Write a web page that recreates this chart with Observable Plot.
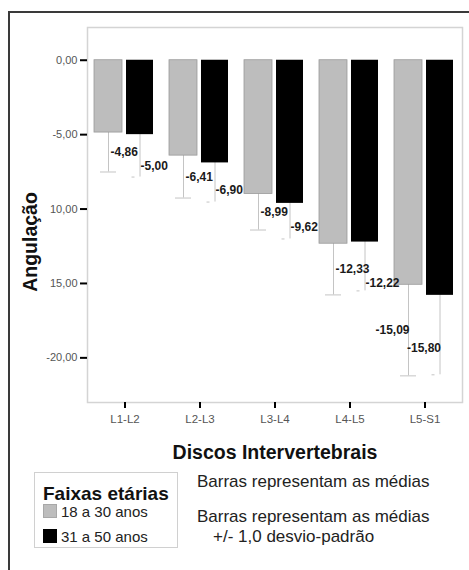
<!DOCTYPE html>
<html>
<head>
<meta charset="utf-8">
<script src="https://cdn.jsdelivr.net/npm/d3@7"></script>
<script src="https://cdn.jsdelivr.net/npm/@observablehq/plot@0.6"></script>
<style>
  html, body { margin: 0; padding: 0; background: #fff; }
  #wrap { position: relative; width: 469px; height: 570px; overflow: hidden; font-family: "Liberation Sans", Arial, sans-serif; background: #fff; }
  #border { position: absolute; left: 8px; top: 11px; right: -10px; bottom: -10px; border-left: 2px solid #3a3a3a; border-top: 2px solid #3a3a3a; pointer-events: none; }
  #chart { position: absolute; left: 0; top: 0; }
  .legend { position: absolute; left: 34px; top: 472px; width: 144px; height: 76px; border: 1px solid #d0d0d0; box-sizing: border-box; background: #fff; }
  .legend .title { position: absolute; left: 8px; top: 10px; font-size: 19px; font-weight: bold; color: #111; white-space: nowrap; }
  .legend .item { position: absolute; left: 8px; height: 15px; font-size: 15px; line-height: 15px; color: #222; white-space: nowrap; }
  .legend .sw { display: inline-block; width: 14px; height: 14px; vertical-align: top; margin-right: 4px; box-sizing: border-box; }
  .note { position: absolute; font-size: 17px; color: #222; white-space: nowrap; line-height: 17px; }
</style>
</head>
<body>
<div id="wrap">
  <div id="chart"></div>
  <div id="border"></div>
</div>
<script>
// ---- data ----
const discs = ["L1-L2", "L2-L3", "L3-L4", "L4-L5", "L5-S1"];
const groups = ["18 a 30 anos", "31 a 50 anos"];
const groupColors = ["#bdbdbd", "#000000"];
const means18 = [-4.86, -6.41, -8.99, -12.33, -15.09];
const means31 = [-5.00, -6.90, -9.62, -12.22, -15.80];
const sd18 = [2.65, 2.85, 2.42, 3.44, 6.12];
const sd31 = [2.85, 2.63, 2.39, 3.28, 5.34];
const yTicks = [0, -5, -10, -15, -20];
const yTickLabels = ["0,00", "-5,00", "10,00", "15,00", "-20,00"];
const xTitle = "Discos Intervertebrais";
const yTitle = "Angulação";
const legendTitle = "Faixas etárias";
const notes = ["Barras representam as médias", "Barras representam as médias", "+/- 1,0 desvio-padrão"];

const fmt = v => v.toFixed(2).replace(".", ",");
// label placement (data units): inside the lower whisker; the second group's label
// is kept below the first group's label so that they do not collide
const rows18 = discs.map((d, i) => ({disc: d, mean: means18[i], sd: sd18[i], label: fmt(means18[i]), ly: means18[i] - 0.5 * sd18[i]}));
const rows31 = discs.map((d, i) => ({disc: d, mean: means31[i], sd: sd31[i], label: fmt(means31[i]),
  ly: Math.min(means31[i] - 0.67 * sd31[i], rows18[i].ly - 0.9)}));
const last = discs[discs.length - 1];

const font = "'Liberation Sans', Arial, sans-serif";
const errColor = "#c4c4c4";
const lblStyle = {fontSize: 12, fontWeight: "bold", fill: "#1a1a1a"};

const plot = Plot.plot({
  width: 469,
  height: 570,
  marginLeft: 87,
  marginRight: 7,
  marginTop: 27,
  marginBottom: 168,
  style: {fontFamily: font, background: "transparent"},
  x: {domain: discs, padding: 0, label: null},
  y: {domain: [-23, 2.2], label: null},
  marks: [
    Plot.frame({stroke: "#d4d4d4", strokeWidth: 1.5}),
    // error bars (drawn first; the bars hide the upper halves)
    Plot.ruleX(rows18, {x: "disc", y1: d => d.mean - d.sd, y2: d => d.mean + d.sd, dx: -16.5, stroke: errColor, strokeWidth: 1}),
    Plot.ruleX(rows31, {x: "disc", y1: d => d.mean - d.sd, y2: d => d.mean + d.sd, dx: 15, stroke: errColor, strokeWidth: 1}),
    Plot.tickY(rows18, {x: "disc", y: d => d.mean - d.sd, insetLeft: 13, insetRight: 46, stroke: errColor, strokeWidth: 1}),
    Plot.tickY(rows31, {x: "disc", y: d => d.mean - d.sd, insetLeft: 44.5, insetRight: 27.5, stroke: errColor, strokeWidth: 1}),
    // bars
    Plot.barY(rows18, {x: "disc", y: "mean", insetLeft: 7, insetRight: 40, fill: groupColors[0], stroke: "#9a9a9a", strokeWidth: 0.8}),
    Plot.barY(rows31, {x: "disc", y: "mean", insetLeft: 39, insetRight: 9, fill: groupColors[1]}),
    // value labels
    Plot.text(rows18.filter(d => d.disc !== last), {x: "disc", y: "ly", text: "label", dx: -14.5, textAnchor: "start", ...lblStyle}),
    Plot.text(rows31.filter(d => d.disc !== last), {x: "disc", y: "ly", text: "label", dx: 15.5, textAnchor: "start", ...lblStyle}),
    Plot.text(rows18.filter(d => d.disc === last), {x: "disc", y: "ly", text: "label", dx: -15.5, textAnchor: "end", ...lblStyle}),
    Plot.text(rows31.filter(d => d.disc === last), {x: "disc", y: "ly", text: "label", dx: 16, textAnchor: "end", ...lblStyle}),
    // axes
    Plot.axisY({ticks: yTicks, tickSize: 7, tickPadding: 3, tickFormat: v => yTickLabels[yTicks.indexOf(v)], stroke: "#000", strokeWidth: 2, fill: "#555", fontSize: 11, label: null}),
    Plot.axisX({tickSize: 6, tickPadding: 6, stroke: "#000", strokeWidth: 2, fill: "#555", fontSize: 11.5, label: null}),
    // axis titles
    Plot.text([xTitle], {frameAnchor: "bottom", lineAnchor: "middle", textAnchor: "middle", dy: 50, fontSize: 19.5, fontWeight: "bold", fill: "#111"}),
    Plot.text([yTitle], {frameAnchor: "left", textAnchor: "middle", lineAnchor: "middle", rotate: -90, dx: -57, dy: 27, fontSize: 19.5, fontWeight: "bold", fill: "#111"})
  ]
});
document.getElementById("chart").appendChild(plot);

// legend & notes
const wrap = document.getElementById("wrap");
const lg = document.createElement("div");
lg.className = "legend";
const t = document.createElement("div");
t.className = "title";
t.textContent = legendTitle;
lg.appendChild(t);
groups.forEach((g, i) => {
  const it = document.createElement("div");
  it.className = "item";
  it.style.top = (31 + i * 25) + "px";
  const sw = document.createElement("span");
  sw.className = "sw";
  sw.style.background = groupColors[i];
  sw.style.border = i === 0 ? "1px solid #a8a8a8" : "none";
  it.appendChild(sw);
  it.appendChild(document.createTextNode(g));
  lg.appendChild(it);
});
wrap.appendChild(lg);

const notePos = [[197, 473], [197, 508], [213, 528]];
notes.forEach((n, i) => {
  const d = document.createElement("div");
  d.className = "note";
  d.style.left = notePos[i][0] + "px";
  d.style.top = notePos[i][1] + "px";
  d.textContent = n;
  wrap.appendChild(d);
});
</script>
</body>
</html>
